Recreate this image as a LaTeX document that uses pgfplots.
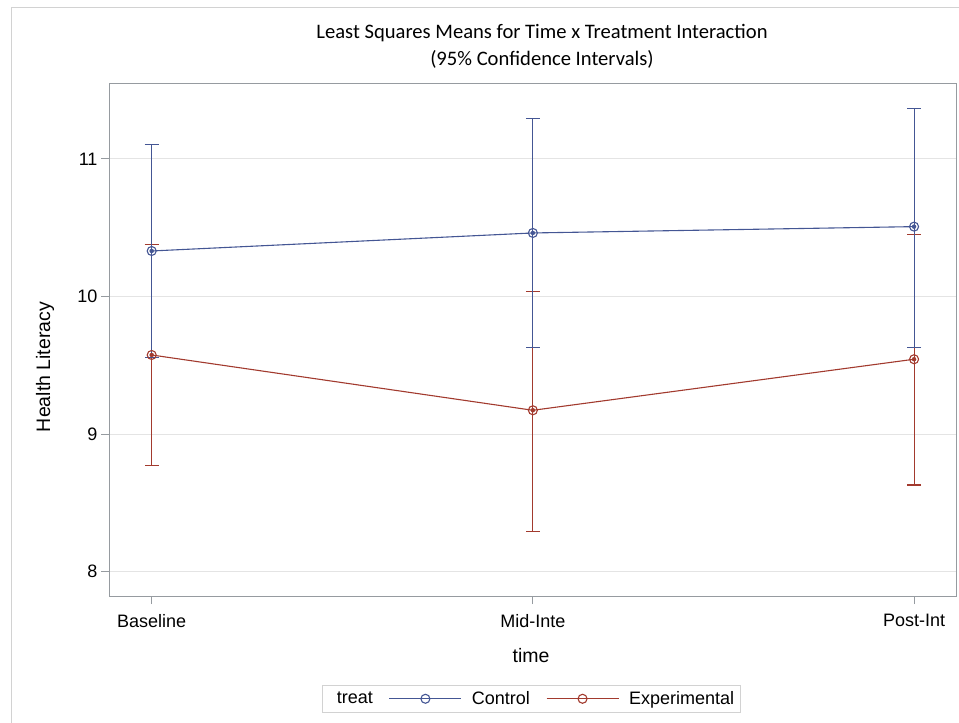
\documentclass[border=0pt]{standalone}
\usepackage{fontspec}
\setmainfont{Liberation Sans}
\newfontfamily\calibri{Carlito}
\usepackage{pgfplots}
\pgfplotsset{compat=1.18}
\usepackage{pgfplotstable}
\definecolor{cblue}{RGB}{68,86,148}
\definecolor{cred}{RGB}{162,58,46}
\definecolor{axgray}{RGB}{150,155,160}
\definecolor{gridgray}{RGB}{228,228,228}
\definecolor{bordergray}{RGB}{210,210,210}

\pgfplotstableread{
x y lo hi
0 10.331 9.556 11.107
1 10.462 9.628 11.291
2 10.508 9.628 11.369
}\control
\pgfplotstableread{
x y lo hi
0 9.575 8.771 10.375
1 9.173 8.295 10.038
2 9.544 8.630 10.453
}\experimental

\begin{document}
\begin{tikzpicture}
\useasboundingbox (0pt,0pt) rectangle (959pt,-723pt);
\draw[bordergray, line width=1pt] (11.5pt,-723pt) -- (11.5pt,-7.5pt) -- (959pt,-7.5pt);
\begin{axis}[
  at={(109pt,-596pt)}, anchor=south west,
  scale only axis, width=847pt, height=513pt,
  xmin=-0.112, xmax=2.11, ymin=7.823, ymax=11.552,
  xtick={0,1,2}, xticklabels={Baseline,Mid-Inte,Post-Int},
  ytick={8,9,10,11},
  ymajorgrids, grid style={gridgray, line width=1pt},
  axis line style={axgray, line width=1pt},
  tick style={axgray, line width=1pt},
  tick align=outside, tick pos=left, major tick length=8pt,
  /pgf/number format/assume math mode=true,
  ticklabel style={font=\fontsize{18}{20}\selectfont, black},
  xticklabel style={yshift=-7pt},
  legend columns=-1,
  legend style={at={(axis description cs:0.5,0)}, anchor=north, yshift=-89pt, xshift=-1pt,
    draw=bordergray, line width=1pt, font=\fontsize{18}{20}\selectfont,
    inner xsep=4pt, inner ysep=4pt,
    /tikz/every even column/.append style={column sep=14pt},
    /tikz/every odd column/.append style={column sep=8pt}},
  legend image code/.code={\draw[mark repeat=2,mark phase=2,#1] plot coordinates {(0pt,0pt)(36pt,0pt)(72pt,0pt)};},
]
\addlegendimage{empty legend}
\addlegendentry{treat\hspace{30pt}}

\addplot[forget plot, cred, only marks, mark=none,
  error bars/.cd, y dir=both, y explicit,
  error mark=|, error mark options={mark size=7pt, line width=1.1pt, cred},
  error bar style={line width=1.1pt, cred}]
  table[x=x, y=y, y error plus expr=\thisrow{hi}-\thisrow{y}, y error minus expr=\thisrow{y}-\thisrow{lo}] {\experimental};
\addplot[forget plot, cblue, only marks, mark=none,
  error bars/.cd, y dir=both, y explicit,
  error mark=|, error mark options={mark size=7pt, line width=1.1pt, cblue},
  error bar style={line width=1.1pt, cblue}]
  table[x=x, y=y, y error plus expr=\thisrow{hi}-\thisrow{y}, y error minus expr=\thisrow{y}-\thisrow{lo}] {\control};

\addplot[cblue, line width=1.1pt, mark=o, mark size=4.5pt, mark options={line width=1.1pt}]
  table[x=x, y=y] {\control};
\addlegendentry{Control}
\addplot[cred, line width=1.1pt, mark=o, mark size=4.5pt, mark options={line width=1.1pt}]
  table[x=x, y=y] {\experimental};
\addlegendentry{Experimental\hspace{6pt}}
\end{axis}
\node[font=\calibri\fontsize{20.6}{27}\selectfont, align=center] at (542pt,-46pt)
  {Least Squares Means for Time x Treatment Interaction\\(95\% Confidence Intervals)};
\node[rotate=90, font=\fontsize{19.5}{22}\selectfont] at (45pt,-367pt) {Health Literacy};
\node[font=\fontsize{19.5}{22}\selectfont] at (531pt,-656pt) {time};
\end{tikzpicture}
\end{document}
